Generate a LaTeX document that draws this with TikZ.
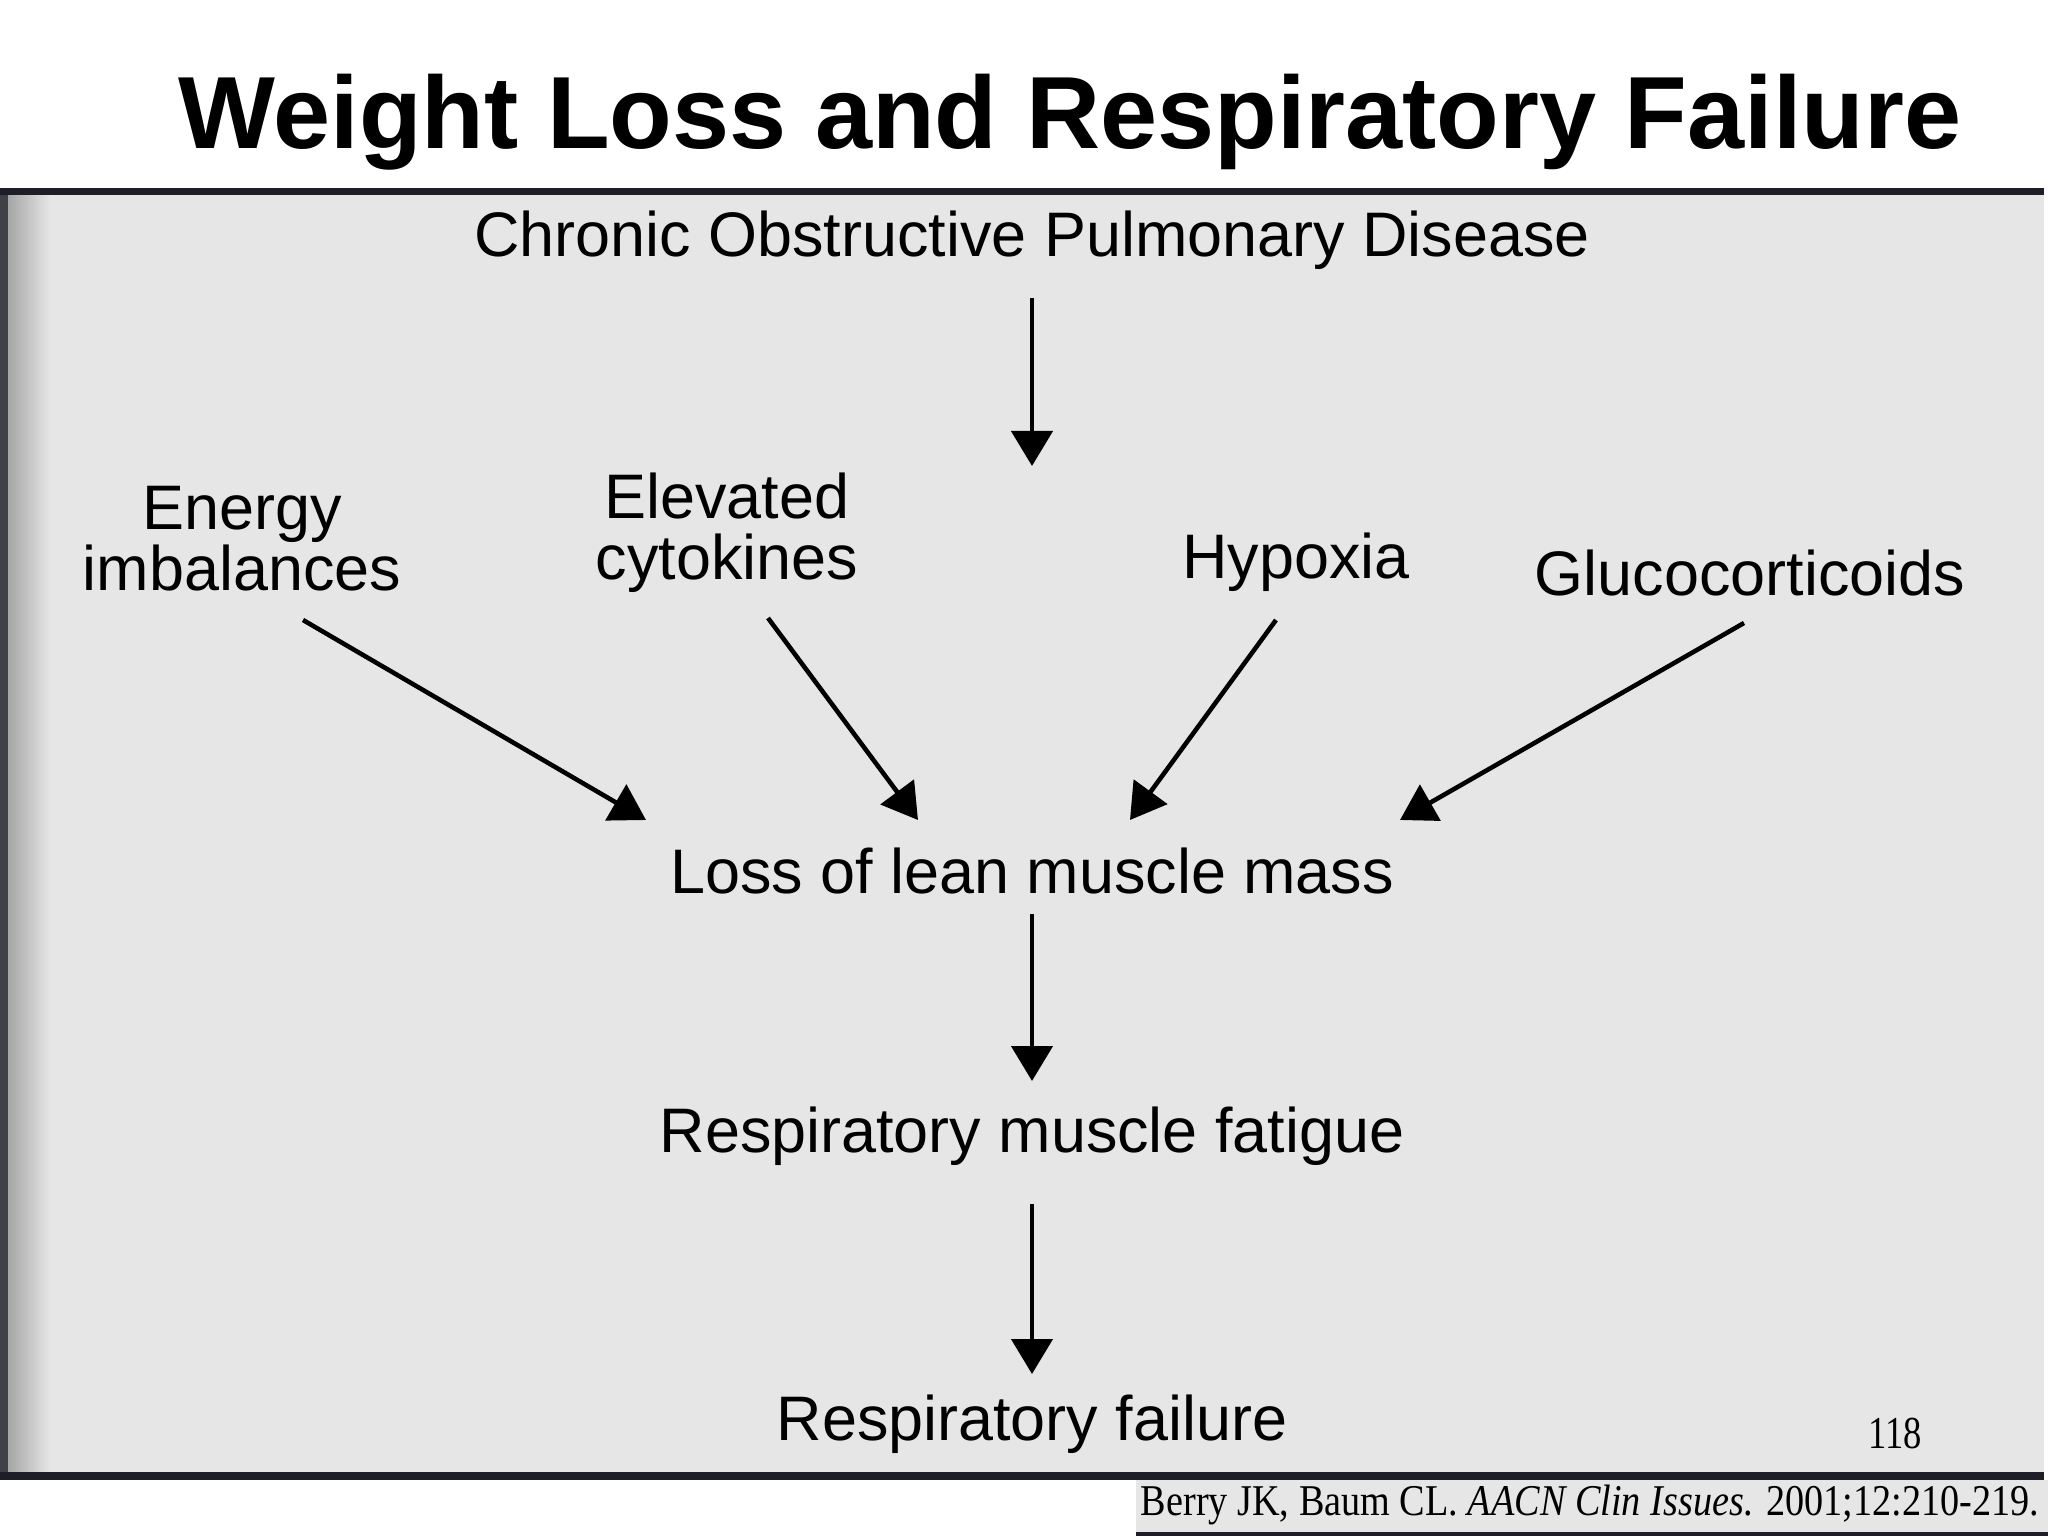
\documentclass[tikz,border=0pt]{standalone}
\usepackage{graphicx}
\usepackage{fontspec}
\setmainfont{Liberation Sans}
\newfontfamily\citefont{Liberation Serif}
\usetikzlibrary{arrows.meta}
\usetikzlibrary{positioning}
\definecolor{scangray}{RGB}{230,230,231}
\definecolor{scanedge}{RGB}{30,30,40}
\tikzstyle{effect} = [inner sep=0pt, font=\fontsize{17.9}{17.3}\selectfont]
\tikzstyle{cause} = [inner sep=0pt, align=center, font=\fontsize{17.9}{17.3}\selectfont]
\tikzstyle{arrow} = [line width=1.3pt,-{Triangle[length=3.5mm,width=4.1mm]}]

\begin{document}
\begin{tikzpicture}
 \useasboundingbox (0,0) rectangle (20.48,-15.36);
 \fill[white] (0,0) rectangle (20.48,-15.36);

 % scanned page
 \fill[scangray] (0,-1.90) rectangle (20.44,-14.78);
 \fill[scanedge!85] (0,-1.90) rectangle (0.08,-14.78);
 \shade[left color=gray!70, right color=scangray] (0.08,-1.90) rectangle (0.5,-14.78);
 \fill[scanedge] (0,-1.88) rectangle (20.44,-1.95);
 \fill[scanedge] (0,-14.72) rectangle (20.44,-14.80);
 \fill[scangray] (11.36,-14.80) rectangle (20.48,-15.36);
 \fill[scanedge] (11.36,-15.32) rectangle (20.48,-15.36);

 \node (title) at (10.70,-1.22) [font=\bfseries\fontsize{29.2}{29}\selectfont] {Weight Loss and Respiratory Failure};

 \node (copd) [effect] at (10.32,-2.40) {Chronic Obstructive Pulmonary Disease};
 \node (loss) [effect, below of=copd, node distance=6.31cm] {Loss of lean muscle mass};
 \node (fatigue) [effect, below of=loss, node distance=2.65cm] {Respiratory muscle fatigue};
 \node (failure) [effect, below of=fatigue, node distance=2.88cm] {Respiratory failure};

 \node (energy) [cause, above of=loss, node distance=3.32cm, xshift=-7.90cm] {Energy\\imbalances};
 \node (cytokines) [cause, above of=loss, node distance=3.38cm, xshift=-3.05cm] {Elevated\\cytokines};
 \node (hypoxia) [cause, above of=loss, node distance=3.09cm, xshift=2.64cm] {Hypoxia};
 \node (glucocorticoids) [cause, above of=loss, node distance=2.98cm, xshift=7.18cm] {Glucocorticoids};

 \coordinate (copd_end) at ([yshift=-22.6mm]copd.center);

 \draw [arrow] ([yshift=-5.8mm]copd.center) -- (copd_end);

 \draw [arrow] ([xshift=6.1mm,yshift=-8.1mm]energy.center) -- ([xshift=-38.6mm,yshift=5.1mm]loss.center);
 \draw [arrow] ([xshift=4.1mm,yshift=-8.5mm]cytokines.center) -- ([xshift=-11.4mm,yshift=5.1mm]loss.center);
 \draw [arrow] ([xshift=-2.0mm,yshift=-5.8mm]hypoxia.center) -- ([xshift=9.8mm,yshift=5.1mm]loss.center);
 \draw [arrow] ([xshift=-0.6mm,yshift=-5.0mm]glucocorticoids.center) -- ([xshift=36.8mm,yshift=5.1mm]loss.center);

 \draw [arrow] ([yshift=-4.3mm]loss.center) -- ([yshift=5.5mm]fatigue.center);
 \draw [arrow] ([yshift=-6.8mm]fatigue.center) -- ([yshift=5.0mm]failure.center);

 \node (page_number) at (18.95,-14.34) {\citefont\fontsize{13}{13}\selectfont\scalebox{0.8}[1]{118}};
 \node (citation) at (15.9,-15.05) {\citefont\fontsize{12.5}{12.5}\selectfont\scalebox{0.87}[1]{Berry JK, Baum CL. \textit{AACN Clin Issues}. 2001;12:210-219.}};

\end{tikzpicture}
\end{document}
